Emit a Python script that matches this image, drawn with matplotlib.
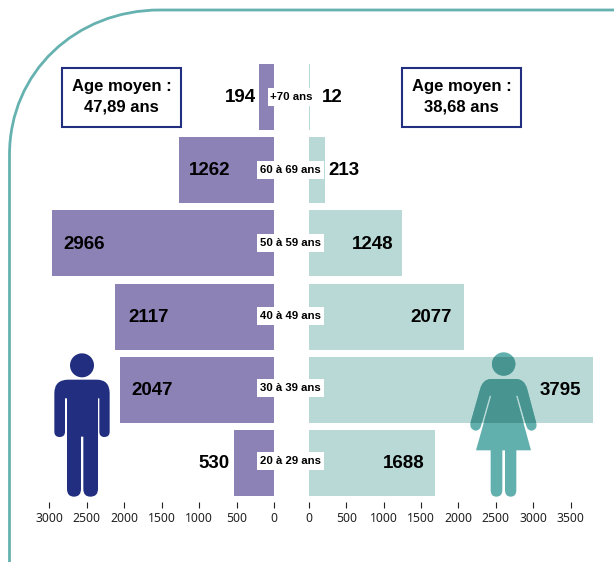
#!/usr/bin/env python
# -*- coding: utf-8 -*-
"""Pyramide des ages hommes / femmes"""

import matplotlib
matplotlib.use("Agg")
import matplotlib.pyplot as plt
from matplotlib.path import Path
from matplotlib.patches import PathPatch, Circle, Rectangle

W, H = 614, 562

age_labels = ["+70 ans", "60 à 69 ans", "50 à 59 ans", "40 à 49 ans", "30 à 39 ans", "20 à 29 ans"]
men_values = [194, 1262, 2966, 2117, 2047, 530]
women_values = [12, 213, 1248, 2077, 3795, 1688]
men_ticks = [0, 500, 1000, 1500, 2000, 2500, 3000]
women_ticks = [0, 500, 1000, 1500, 2000, 2500, 3000, 3500]
men_mean = "Age moyen :\n47,89 ans"
women_mean = "Age moyen :\n38,68 ans"

PURPLE = "#8c82b5"
PALE = "#b9d9d7"
NAVY = "#222f80"
TEAL = "#62b0ae"
TEAL_DARK = "#489490"
BOLD = ["Liberation Sans Narrow", "Liberation Sans"]

fig = plt.figure(figsize=(W / 100, H / 100), dpi=100)


def px_axes(left, right, top, bottom):
    return fig.add_axes([left / W, 1 - bottom / H, (right - left) / W, (bottom - top) / H])


ax_men = px_axes(49, 274, 64, 496)
ax_women = px_axes(309, 593, 64, 496)
rows = list(range(len(age_labels)))[::-1]

men_bars = ax_men.barh(rows, men_values, height=0.9, color=PURPLE)
women_bars = ax_women.barh(rows, women_values, height=0.9, color=PALE)

ax_men.set_xlim(3000, 0)
ax_women.set_xlim(0, 3800)
for ax, ticks in ((ax_men, men_ticks), (ax_women, women_ticks)):
    ax.set_ylim(-0.45, 5.45)
    ax.set_yticks([])
    ax.set_xticks(ticks)
    ax.tick_params(axis="x", length=4.3, width=0.8, color="#222222", labelcolor="#222222",
                   pad=3.2, labelsize=8.8, labelfontfamily="Noto Sans")
    for side in ("top", "left", "right"):
        ax.spines[side].set_visible(False)
    ax.spines["bottom"].set_position(("outward", 4.3))
    ax.spines["bottom"].set_color("none")
    ax.patch.set_alpha(0)

# decalage des etiquettes en pixels depuis le bout de la barre
men_offsets = [3, -10, -12, -13, -11, 5]
women_offsets = [12, 3, -9, -12, -12, -11]

for y, v, off in zip(rows, men_values, men_offsets):
    ax_men.annotate(str(v), (v, y), xytext=(-off * 0.72, -0.5), textcoords="offset points",
                    ha="right" if off > 0 else "left", va="center",
                    family=BOLD, weight="bold", fontsize=13.5, color="black")
for y, v, off in zip(rows, women_values, women_offsets):
    ax_women.annotate(str(v), (v, y), xytext=(off * 0.72, -0.5), textcoords="offset points",
                      ha="left" if off > 0 else "right", va="center",
                      family=BOLD, weight="bold", fontsize=13.5, color="black")

# calque en pixels pour le cadre, les boites et les pictogrammes
over = fig.add_axes([0, 0, 1, 1])
over.set_xlim(0, W)
over.set_ylim(H, 0)
over.axis("off")
over.patch.set_alpha(0)

# cadre
frame = Path([(9.5, 562), (9.5, 155), (9.5, 72), (76, 10), (160, 10), (614, 10)],
             [Path.MOVETO, Path.LINETO, Path.CURVE4, Path.CURVE4, Path.CURVE4, Path.LINETO])
over.add_patch(PathPatch(frame, fill=False, edgecolor="#66b2b0", lw=2.0))

# etiquettes d'age
label_y = [97, 170, 243, 316, 388, 461]
for i, (txt, y) in enumerate(zip(age_labels, label_y)):
    if i == 0:
        over.add_patch(Rectangle((268, y - 9), 47, 18, fc="white", ec="none"))
    else:
        over.add_patch(Rectangle((257, y - 9), 67, 18, fc="white", ec="none"))
    over.text(291 if i == 0 else 290.5, y, txt, ha="center", va="center", family=BOLD,
              weight="bold", fontsize=8.2, color="black")

# boites age moyen
for x0, txt in ((62, men_mean), (402, women_mean)):
    over.add_patch(Rectangle((x0, 68), 118.5, 58.5, fc="white", ec=NAVY, lw=1.5))
    over.text(x0 + 59.5, 97, txt, ha="center", va="center", family=BOLD, weight="bold",
              fontsize=12, color="black", linespacing=1.45)


def zoom_path(segs, ox, oy):
    verts, codes = [], []
    for code, pt in segs:
        verts.append((ox + pt[0] / 3, oy + pt[1] / 3))
        codes.append(code)
    return Path(verts, codes)


M, L, C = Path.MOVETO, Path.LINETO, Path.CURVE3

man = [
    (M, (205, 119)), (L, (290, 119)), (C, (329, 119)), (C, (329, 160)), (L, (329, 275)),
    (C, (329, 291)), (C, (313, 291)), (C, (298, 291)), (C, (298, 275)), (L, (298, 175)),
    (L, (294, 175)), (L, (294, 447)), (C, (294, 470)), (C, (271, 470)), (C, (250, 470)),
    (C, (250, 447)), (L, (250, 290)), (L, (243, 290)), (L, (243, 447)), (C, (243, 470)),
    (C, (222, 470)), (C, (201, 470)), (C, (201, 447)), (L, (201, 175)), (L, (195, 175)),
    (L, (195, 275)), (C, (195, 291)), (C, (179, 291)), (C, (163, 291)), (C, (163, 275)),
    (L, (163, 160)), (C, (163, 119)), (C, (205, 119)), (Path.CLOSEPOLY, (205, 119)),
]
over.add_patch(PathPatch(zoom_path(man, 0, 340), fc=NAVY, ec="none"))
over.add_patch(Circle((246 / 3, 340 + 76 / 3), 12, fc=NAVY, ec="none"))

woman = [
    (M, (550, 117)), (L, (630, 117)), (C, (652, 119)), (C, (660, 145)), (L, (688, 250)),
    (C, (692, 268)), (C, (675, 272)), (C, (662, 272)), (C, (658, 258)), (L, (632, 167)),
    (L, (627, 167)), (L, (672, 331)), (L, (628, 331)), (L, (628, 450)), (C, (628, 470)),
    (C, (611, 470)), (C, (594, 470)), (C, (594, 450)), (L, (594, 331)), (L, (586, 331)),
    (L, (586, 450)), (C, (586, 470)), (C, (568, 470)), (C, (551, 470)), (C, (551, 450)),
    (L, (551, 331)), (L, (507, 331)), (L, (553, 167)), (L, (548, 167)), (L, (522, 258)),
    (C, (518, 272)), (C, (505, 272)), (C, (488, 268)), (C, (490, 250)), (L, (520, 145)),
    (C, (528, 119)), (C, (550, 117)), (Path.CLOSEPOLY, (550, 117)),
]
woman_path = zoom_path(woman, 307, 340)
head_xy = (307 + 590 / 3, 340 + 72 / 3)
over.add_patch(PathPatch(woman_path, fc=TEAL, ec="none"))
over.add_patch(Circle(head_xy, 11.7, fc=TEAL, ec="none"))

# partie du pictogramme qui recouvre la barre 30-39 : teinte plus foncee
dark_body = PathPatch(woman_path, fc=TEAL_DARK, ec="none")
dark_head = Circle(head_xy, 11.7, fc=TEAL_DARK, ec="none")
for p in (dark_body, dark_head):
    over.add_patch(p)
    p.set_clip_path(women_bars[4])

fig.savefig("out.png", dpi=100)
